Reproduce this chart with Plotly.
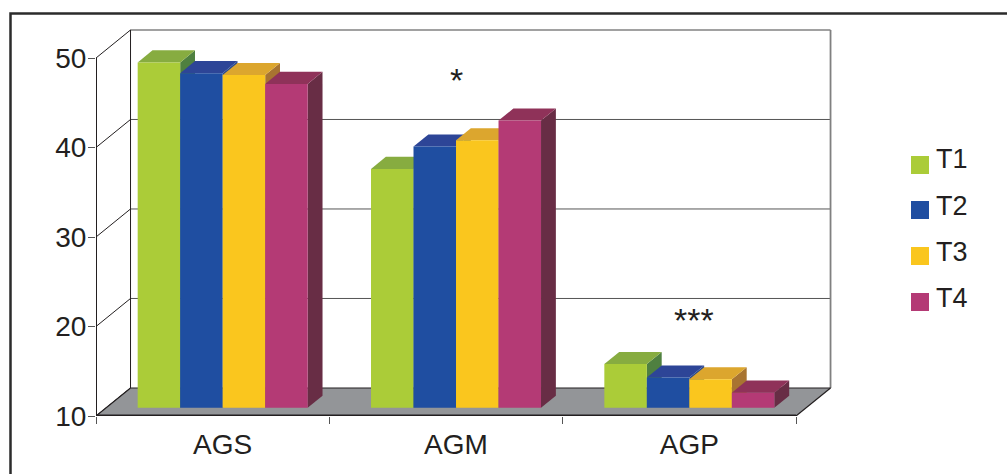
import plotly.graph_objects as go

# Grouped values per treatment
groups = ["AGS", "AGM", "AGP"]
series_names = ["T1", "T2", "T3", "T4"]
t1_values = [48.6, 36.7, 14.9]
t2_values = [47.4, 39.2, 13.4]
t3_values = [47.2, 39.9, 13.2]
t4_values = [46.2, 42.1, 11.7]
y_ticks = [10, 20, 30, 40, 50]
sig_groups = ["AGM", "AGP"]
sig_levels = [46.6, 19.8]
sig_texts = ["*", "***"]

series_values = [t1_values, t2_values, t3_values, t4_values]
front_colors = ["#ABCC38", "#1F4EA1", "#FAC61E", "#B43A75"]
top_colors = ["#87AC40", "#2D4597", "#DCA62E", "#8F3259"]
side_colors = ["#4F8040", "#2A4A8C", "#A87431", "#682D45"]

W, H = 1007, 474
INK = "#231F20"
FLOOR = "#939598"
Y_MIN, Y_MAX = y_ticks[0], y_ticks[-1]
n = len(groups)

# Pixel placement of the front plane of the chart box
PX_LEFT, PX_FRONT_RIGHT = 96, 796
PX_BOTTOM, PX_FRONT_TOP = 416, 58
PX_PER_X = (PX_FRONT_RIGHT - PX_LEFT) / n
PX_PER_V = (PX_BOTTOM - PX_FRONT_TOP) / (Y_MAX - Y_MIN)

# Oblique projection: how far one full unit of depth shifts a point
DEPTH_X = 0.148
DEPTH_Y = 3.13
BAR_FRONT = 0.29
BAR_BACK = 0.72
CLUSTER = 0.7286
BAR_W = CLUSTER / len(series_names)

# Headroom so the box's right and top edges are not cut by the plot clip
X_END = n + DEPTH_X + 0.02
V_END = Y_MAX + DEPTH_Y + 0.3


def project(x, v, depth):
    return x + depth * DEPTH_X, v + depth * DEPTH_Y


def polygon(points, color):
    xs, ys = zip(*(points + points[:1]))
    return go.Scatter(
        x=xs, y=ys, mode="lines", fill="toself", fillcolor=color,
        line=dict(color="rgba(0,0,0,0)", width=0),
        hoverinfo="skip", showlegend=False,
    )


def segment(a, b, color=INK, width=1):
    return go.Scatter(
        x=[a[0], b[0]], y=[a[1], b[1]], mode="lines",
        line=dict(color=color, width=width),
        hoverinfo="skip", showlegend=False,
    )


fig = go.Figure()

# Back wall, gridlines and floor
for v in y_ticks[1:-1]:
    fig.add_trace(segment(project(0, v, 1), project(n, v, 1), "#555555", 1))
fig.add_trace(segment(project(0, Y_MAX, 1), project(n, Y_MAX, 1), "#444444", 1.2))
fig.add_trace(segment(project(n, Y_MIN, 1), project(n, Y_MAX, 1), "#808080", 1.8))
fig.add_trace(segment(project(0, Y_MIN, 1), project(0, Y_MAX, 1), INK, 1))
for v in y_ticks:
    fig.add_trace(segment(project(0, v, 0), project(0, v, 1), INK, 1))
fig.add_trace(polygon([project(0, Y_MIN, 0), project(n, Y_MIN, 0),
                       project(n, Y_MIN, 1), project(0, Y_MIN, 1)], FLOOR))
fig.add_trace(segment(project(0, Y_MIN, 1), project(n, Y_MIN, 1), INK, 1.2))
fig.add_trace(segment(project(n, Y_MIN, 0), project(n, Y_MIN, 1), INK, 1.2))
fig.add_trace(segment(project(0, Y_MIN, 0), project(0, Y_MIN, 1), INK, 1.2))
# Axis lines lie on the clip edge, so they are drawn double width
fig.add_trace(segment((0, Y_MIN), (0, Y_MAX), INK, 2))
fig.add_trace(segment((0, Y_MIN), (n, Y_MIN), INK, 3))

# Top and side faces of each bar, painted left to right
for g in range(n):
    for s, values in enumerate(series_values):
        v = values[g]
        left = g + 0.5 - CLUSTER / 2 + s * BAR_W
        right = left + BAR_W
        fig.add_trace(polygon([project(right, Y_MIN, BAR_FRONT), project(right, Y_MIN, BAR_BACK),
                               project(right, v, BAR_BACK), project(right, v, BAR_FRONT)],
                              side_colors[s]))
        fig.add_trace(polygon([project(left, v, BAR_FRONT), project(right, v, BAR_FRONT),
                               project(right, v, BAR_BACK), project(left, v, BAR_BACK)],
                              top_colors[s]))

# Front faces sit on an overlay axis pair shifted to the bars' depth plane
for s, values in enumerate(series_values):
    fig.add_trace(go.Bar(
        x=groups, y=[v - Y_MIN for v in values], base=Y_MIN,
        name=series_names[s], marker=dict(color=front_colors[s], line=dict(width=0)),
        xaxis="x2", yaxis="y2", showlegend=False,
        customdata=values, hovertemplate="%{x} " + series_names[s] + ": %{customdata}<extra></extra>",
    ))

shift_x = BAR_FRONT * DEPTH_X
shift_y = BAR_FRONT * DEPTH_Y

# Outer frame and the key on the right
shapes = [dict(type="path", xref="paper", yref="paper",
               path=f"M {10.5/W} 0 L {10.5/W} {1-13.5/H} L 1 {1-13.5/H}",
               line=dict(color="#2B2B2B", width=2.5))]
annotations = []
key_square_tops = [156, 201, 247, 293]
key_text_mids = [159.5, 205.5, 251.5, 297.5]
for name, color, top, mid in zip(series_names, front_colors, key_square_tops, key_text_mids):
    shapes.append(dict(type="rect", xref="paper", yref="paper",
                       x0=911/W, x1=929/W, y0=1-(top+18)/H, y1=1-top/H,
                       fillcolor=color, line=dict(width=0)))
    annotations.append(dict(xref="paper", yref="paper", x=935/W, y=1-mid/H,
                            text=name, showarrow=False, xanchor="left", yanchor="middle",
                            font=dict(size=27, color=INK), borderpad=0))
sig_xshifts = [0, 5]
for group, level, mark, dx in zip(sig_groups, sig_levels, sig_texts, sig_xshifts):
    annotations.append(dict(xref="x2", yref="y2", x=group, y=level, text=mark, showarrow=False,
                            xshift=dx, font=dict(size=34, color=INK),
                            xanchor="center", yanchor="middle"))

domain_x = [PX_LEFT / W, (PX_LEFT + PX_PER_X * X_END) / W]
domain_y = [(H - PX_BOTTOM) / H, (H - PX_BOTTOM + PX_PER_V * (V_END - Y_MIN)) / H]

fig.update_layout(
    width=W, height=H, margin=dict(l=0, r=0, t=0, b=0, pad=0),
    paper_bgcolor="#FFFFFF", plot_bgcolor="rgba(0,0,0,0)",
    font=dict(family="Liberation Sans, Arial, sans-serif", color=INK),
    barmode="group", bargap=1 - CLUSTER, bargroupgap=0,
    showlegend=False, shapes=shapes, annotations=annotations,
    xaxis=dict(domain=domain_x, range=[0, X_END], showgrid=False, zeroline=False,
               automargin=False, showline=False,
               tickmode="array", tickvals=list(range(n + 1)), showticklabels=False,
               ticks="outside", ticklen=7, tickcolor="#555555", tickwidth=1),
    yaxis=dict(domain=domain_y, range=[Y_MIN, V_END], showgrid=False, zeroline=False,
               automargin=False, showline=False,
               tickmode="array", tickvals=y_ticks, ticks="outside", ticklen=7,
               tickcolor="#555555", tickwidth=1, ticklabelstandoff=-4,
               tickfont=dict(size=28, color=INK)),
    xaxis2=dict(overlaying="x", anchor="y", side="bottom", type="category",
                categoryorder="array", categoryarray=groups, automargin=False,
                range=[-0.5 - shift_x, X_END - 0.5 - shift_x],
                showgrid=False, zeroline=False, showline=False, ticks="",
                ticklabelstandoff=9, tickfont=dict(size=28, color=INK)),
    yaxis2=dict(overlaying="y", anchor="x", side="left", range=[Y_MIN - shift_y, V_END - shift_y],
                automargin=False, showgrid=False, zeroline=False, showline=False,
                showticklabels=False, ticks=""),
)

fig.write_html("out.html")
